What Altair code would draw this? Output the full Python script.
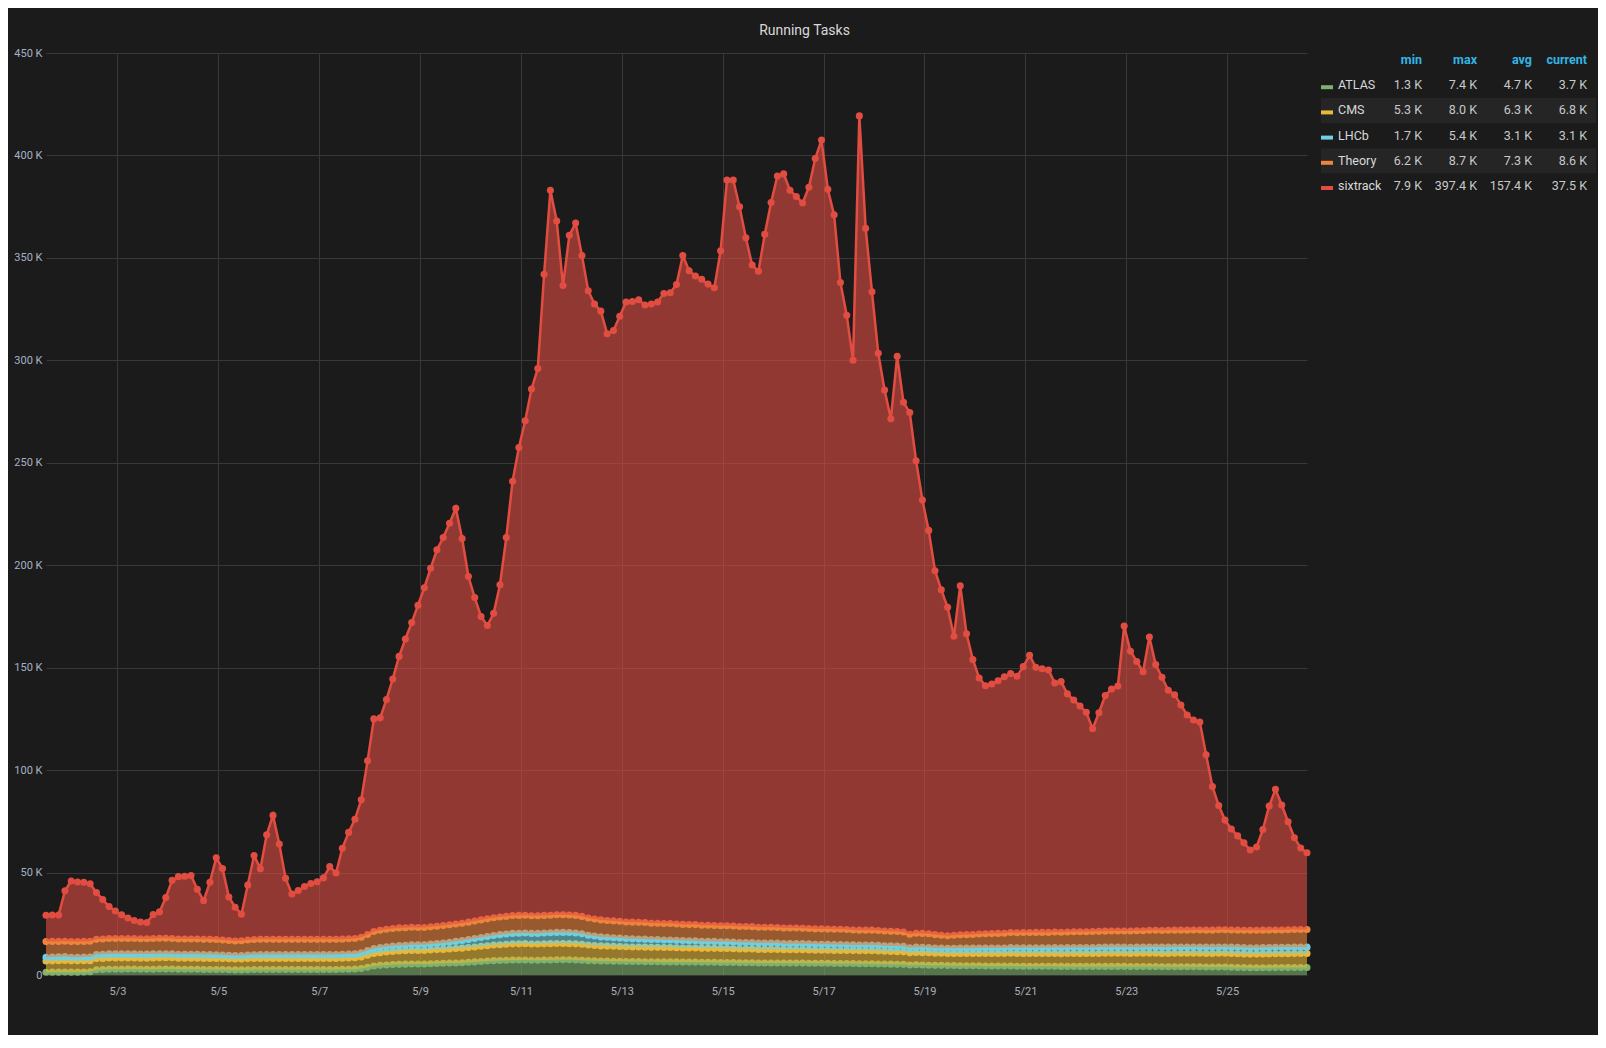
import altair as alt
import pandas as pd

# ---------------- data (values in thousands, every 3 h from 5/1 14:00) ----------------
START = "2018-05-01 14:00"
names = ["ATLAS", "CMS", "LHCb", "Theory", "sixtrack"]
colors = ["#7EB26D", "#EAB839", "#6ED0E0", "#EF843C", "#E24D42"]

atlas = [
    1.3, 1.4, 1.4, 1.5, 1.4, 1.4, 1.5, 1.6, 2.6, 2.7,
    2.8, 2.8, 2.8, 2.9, 2.9, 2.8, 2.8, 2.8, 2.9, 2.9,
    2.9, 2.8, 2.8, 2.8, 2.8, 2.7, 2.7, 2.7, 2.7, 2.6,
    2.5, 2.5, 2.6, 2.7, 2.7, 2.7, 2.7, 2.7, 2.7, 2.7,
    2.7, 2.7, 2.7, 2.7, 2.7, 2.7, 2.7, 2.8, 2.8, 2.9,
    3.2, 3.8, 4.4, 4.7, 4.9, 5.1, 5.2, 5.3, 5.4, 5.4,
    5.4, 5.5, 5.6, 5.7, 5.8, 5.9, 6.0, 6.2, 6.4, 6.6,
    6.8, 7.0, 7.1, 7.2, 7.3, 7.3, 7.3, 7.2, 7.2, 7.3,
    7.3, 7.4, 7.4, 7.4, 7.3, 7.2, 7.0, 6.9, 6.8, 6.8,
    6.7, 6.7, 6.6, 6.6, 6.6, 6.5, 6.5, 6.5, 6.4, 6.4,
    6.4, 6.3, 6.3, 6.3, 6.2, 6.2, 6.2, 6.1, 6.1, 6.1,
    6.0, 6.0, 6.0, 5.9, 5.9, 5.9, 5.9, 5.8, 5.8, 5.8,
    5.8, 5.7, 5.7, 5.7, 5.7, 5.6, 5.6, 5.6, 5.6, 5.5,
    5.5, 5.5, 5.4, 5.4, 5.3, 5.2, 5.2, 4.9, 5.0, 4.9,
    4.8, 4.7, 4.7, 4.6, 4.6, 4.5, 4.5, 4.5, 4.5, 4.4,
    4.4, 4.4, 4.4, 4.4, 4.3, 4.3, 4.3, 4.3, 4.3, 4.3,
    4.3, 4.2, 4.2, 4.2, 4.2, 4.2, 4.2, 4.2, 4.2, 4.2,
    4.2, 4.2, 4.1, 4.1, 4.1, 4.1, 4.1, 4.0, 4.0, 4.0,
    4.0, 4.0, 4.0, 4.0, 3.9, 3.9, 3.9, 3.9, 3.8, 3.7,
    3.6, 3.5, 3.5, 3.5, 3.5, 3.6, 3.6, 3.6, 3.7, 3.7,
    3.7,
]

cms = [
    5.5, 5.5, 5.6, 5.6, 5.5, 5.5, 5.5, 5.4, 5.4, 5.4,
    5.5, 5.5, 5.5, 5.4, 5.4, 5.4, 5.4, 5.5, 5.5, 5.5,
    5.5, 5.4, 5.4, 5.4, 5.4, 5.4, 5.4, 5.4, 5.3, 5.3,
    5.3, 5.3, 5.4, 5.4, 5.4, 5.4, 5.4, 5.4, 5.4, 5.4,
    5.4, 5.4, 5.4, 5.4, 5.4, 5.4, 5.4, 5.4, 5.5, 5.5,
    5.6, 5.9, 6.1, 6.2, 6.3, 6.4, 6.5, 6.5, 6.6, 6.6,
    6.6, 6.7, 6.8, 6.8, 6.9, 7.0, 7.1, 7.2, 7.3, 7.4,
    7.5, 7.6, 7.7, 7.8, 7.9, 7.9, 8.0, 7.9, 7.9, 7.9,
    8.0, 8.0, 8.0, 7.9, 7.9, 7.8, 7.6, 7.5, 7.4, 7.3,
    7.3, 7.2, 7.2, 7.1, 7.1, 7.1, 7.0, 7.0, 7.0, 7.0,
    6.9, 6.9, 6.9, 6.9, 6.8, 6.8, 6.8, 6.8, 6.8, 6.7,
    6.7, 6.7, 6.7, 6.6, 6.6, 6.6, 6.6, 6.5, 6.5, 6.5,
    6.5, 6.5, 6.4, 6.4, 6.4, 6.4, 6.4, 6.4, 6.3, 6.3,
    6.3, 6.3, 6.3, 6.2, 6.2, 6.2, 6.1, 5.9, 6.0, 6.0,
    6.0, 5.9, 5.9, 5.9, 5.9, 6.0, 6.0, 6.0, 6.0, 6.1,
    6.1, 6.1, 6.1, 6.2, 6.2, 6.2, 6.2, 6.2, 6.2, 6.2,
    6.2, 6.2, 6.3, 6.3, 6.3, 6.3, 6.3, 6.3, 6.4, 6.4,
    6.4, 6.4, 6.4, 6.5, 6.5, 6.5, 6.5, 6.5, 6.5, 6.6,
    6.6, 6.6, 6.6, 6.6, 6.6, 6.6, 6.7, 6.7, 6.7, 6.7,
    6.7, 6.7, 6.7, 6.8, 6.8, 6.8, 6.8, 6.8, 6.8, 6.8,
    6.8,
]

lhcb = [
    1.9, 1.9, 1.9, 1.9, 1.8, 1.8, 1.8, 1.8, 2.0, 2.0,
    2.0, 2.0, 2.0, 2.0, 2.0, 2.0, 2.0, 2.0, 2.0, 2.0,
    1.9, 1.9, 1.9, 1.9, 1.9, 1.9, 1.9, 1.8, 1.8, 1.7,
    1.7, 1.7, 1.8, 1.8, 1.9, 1.9, 1.9, 1.9, 1.9, 1.9,
    1.9, 1.9, 1.9, 1.9, 1.9, 1.9, 1.9, 1.9, 1.9, 1.9,
    2.0, 2.2, 2.4, 2.5, 2.6, 2.6, 2.7, 2.7, 2.8, 2.8,
    2.8, 2.9, 3.0, 3.1, 3.3, 3.5, 3.7, 3.9, 4.1, 4.3,
    4.5, 4.7, 4.9, 5.0, 5.1, 5.2, 5.2, 5.2, 5.2, 5.3,
    5.3, 5.4, 5.4, 5.4, 5.3, 5.1, 4.8, 4.6, 4.4, 4.3,
    4.2, 4.1, 4.0, 4.0, 3.9, 3.9, 3.8, 3.8, 3.7, 3.7,
    3.6, 3.6, 3.5, 3.5, 3.4, 3.4, 3.4, 3.3, 3.3, 3.3,
    3.2, 3.2, 3.2, 3.1, 3.1, 3.1, 3.1, 3.0, 3.0, 3.0,
    3.0, 3.0, 2.9, 2.9, 2.9, 2.9, 2.9, 2.8, 2.8, 2.8,
    2.8, 2.8, 2.8, 2.7, 2.7, 2.7, 2.7, 2.5, 2.6, 2.6,
    2.6, 2.5, 2.5, 2.5, 2.5, 2.6, 2.6, 2.6, 2.7, 2.7,
    2.7, 2.7, 2.7, 2.8, 2.8, 2.8, 2.8, 2.8, 2.8, 2.8,
    2.9, 2.9, 2.9, 2.9, 2.9, 2.9, 2.9, 3.0, 3.0, 3.0,
    3.0, 3.0, 3.0, 3.0, 3.0, 3.1, 3.1, 3.1, 3.1, 3.1,
    3.1, 3.1, 3.1, 3.1, 3.1, 3.1, 3.1, 3.1, 3.1, 3.1,
    3.1, 3.1, 3.1, 3.1, 3.1, 3.1, 3.1, 3.1, 3.1, 3.1,
    3.1,
]

theory = [
    7.6, 7.6, 7.5, 7.5, 7.6, 7.6, 7.6, 7.7, 7.4, 7.5,
    7.5, 7.5, 7.5, 7.5, 7.5, 7.5, 7.5, 7.5, 7.5, 7.5,
    7.5, 7.5, 7.5, 7.5, 7.5, 7.4, 7.4, 7.4, 7.3, 7.2,
    7.1, 7.2, 7.3, 7.4, 7.4, 7.4, 7.4, 7.4, 7.4, 7.4,
    7.4, 7.4, 7.4, 7.4, 7.4, 7.4, 7.4, 7.4, 7.5, 7.5,
    7.6, 7.9, 8.3, 8.4, 8.5, 8.6, 8.6, 8.6, 8.5, 8.4,
    8.4, 8.4, 8.4, 8.5, 8.5, 8.5, 8.5, 8.5, 8.5, 8.6,
    8.6, 8.6, 8.6, 8.6, 8.7, 8.7, 8.7, 8.6, 8.6, 8.6,
    8.6, 8.6, 8.6, 8.6, 8.6, 8.5, 8.4, 8.3, 8.3, 8.2,
    8.2, 8.2, 8.1, 8.1, 8.1, 8.1, 8.0, 8.0, 8.0, 8.0,
    8.0, 7.9, 7.9, 7.9, 7.9, 7.9, 7.8, 7.8, 7.8, 7.8,
    7.8, 7.8, 7.7, 7.7, 7.7, 7.7, 7.6, 7.6, 7.6, 7.6,
    7.5, 7.5, 7.5, 7.5, 7.4, 7.4, 7.4, 7.4, 7.3, 7.3,
    7.3, 7.3, 7.2, 7.2, 7.1, 7.1, 7.0, 6.6, 6.8, 6.8,
    6.7, 6.6, 6.3, 6.2, 6.4, 6.5, 6.6, 6.7, 6.8, 6.9,
    7.0, 7.1, 7.2, 7.3, 7.3, 7.4, 7.4, 7.5, 7.5, 7.5,
    7.6, 7.6, 7.6, 7.7, 7.7, 7.7, 7.8, 7.8, 7.8, 7.9,
    7.9, 7.9, 8.0, 8.0, 8.0, 8.1, 8.1, 8.1, 8.2, 8.2,
    8.2, 8.2, 8.3, 8.3, 8.3, 8.3, 8.4, 8.4, 8.4, 8.4,
    8.4, 8.5, 8.5, 8.5, 8.5, 8.5, 8.5, 8.6, 8.6, 8.6,
    8.6,
]

sixtrack = [
    12.9, 12.9, 12.9, 24.6, 29.6, 29.1, 28.9, 28.0, 22.9, 19.2,
    15.6, 13.4, 11.6, 10.0, 8.8, 8.2, 7.9, 11.7, 12.9, 19.9,
    28.4, 30.4, 30.6, 31.0, 24.2, 18.9, 27.9, 39.9, 34.9, 21.3,
    16.5, 13.0, 26.8, 41.0, 34.5, 51.0, 60.5, 46.5, 29.8, 22.1,
    23.8, 25.8, 27.3, 28.1, 30.0, 35.5, 32.4, 44.4, 51.9, 58.2,
    67.1, 84.7, 103.8, 103.7, 112.2, 121.8, 132.5, 140.9, 148.7, 157.3,
    165.8, 175.0, 183.7, 189.4, 196.0, 202.9, 187.7, 168.7, 157.9, 148.1,
    143.2, 148.6, 162.2, 184.9, 212.0, 228.4, 241.3, 257.1, 267.1, 312.9,
    353.8, 338.6, 307.1, 331.7, 337.9, 322.6, 306.2, 300.2, 297.1, 286.4,
    288.1, 295.3, 302.6, 302.9, 303.9, 301.4, 302.2, 303.2, 307.5, 307.9,
    312.1, 326.5, 319.1, 316.6, 315.3, 312.9, 311.2, 329.5, 364.0, 364.1,
    351.3, 336.1, 322.9, 320.2, 338.2, 353.7, 366.8, 368.1, 360.1, 357.1,
    354.0, 361.8, 376.0, 385.0, 361.1, 348.7, 315.7, 299.8, 278.0, 397.4,
    342.6, 311.6, 281.8, 264.0, 250.2, 280.8, 258.5, 254.6, 230.6, 211.5,
    196.9, 177.6, 168.6, 160.3, 145.9, 170.4, 146.8, 134.2, 125.0, 121.1,
    121.8, 123.3, 125.2, 126.4, 125.2, 129.8, 135.3, 129.4, 128.7, 128.1,
    121.5, 122.3, 116.2, 113.1, 110.2, 107.1, 99.0, 106.7, 115.0, 118.1,
    119.5, 148.8, 136.5, 131.4, 126.4, 143.2, 129.7, 123.6, 117.2, 114.9,
    109.9, 105.0, 102.5, 101.5, 85.6, 70.1, 60.6, 53.5, 49.3, 46.0,
    42.7, 39.2, 40.7, 49.1, 60.6, 68.6, 61.0, 52.7, 44.8, 39.8,
    37.5,
]

# legend table text, as shown
stat_names = ["min", "max", "avg", "current"]
stat_min = ["1.3 K", "5.3 K", "1.7 K", "6.2 K", "7.9 K"]
stat_max = ["7.4 K", "8.0 K", "5.4 K", "8.7 K", "397.4 K"]
stat_avg = ["4.7 K", "6.3 K", "3.1 K", "7.3 K", "157.4 K"]
stat_cur = ["3.7 K", "6.8 K", "3.1 K", "8.6 K", "37.5 K"]

y_ticks = [0, 50000, 100000, 150000, 200000, 250000, 300000, 350000, 400000, 450000]
x_tick_days = [3, 5, 7, 9, 11, 13, 15, 17, 19, 21, 23, 25]

# ---------------- build stacked table ----------------
series_vals = dict(zip(names, [atlas, cms, lhcb, theory, sixtrack]))
times = pd.date_range(START, periods=len(sixtrack), freq="3h")
rows = []
for i, t in enumerate(times):
    base = 0.0
    for n in names:
        v = series_vals[n][i] * 1000.0
        rows.append({"time": t, "series": n, "value": v, "y0": base, "y1": base + v})
        base += v
df = pd.DataFrame(rows)

FONT = "Roboto, Open Sans, sans-serif"
BG = "#1b1b1b"

X = alt.X(
    "time:T",
    title=None,
    scale=alt.Scale(
        domain=[alt.DateTime(year=2018, month=5, date=1, hours=14),
                alt.DateTime(year=2018, month=5, date=26, hours=14)],
        nice=False,
    ),
    axis=alt.Axis(
        values=[alt.DateTime(year=2018, month=5, date=d) for d in x_tick_days],
        format="%-m/%-d", labelPadding=10, labelColor="#aab0b8",
    ),
)
Y = alt.Y(
    "y1:Q",
    title=None,
    scale=alt.Scale(domain=[0, 450000], nice=False),
    axis=alt.Axis(
        values=y_ticks,
        labelExpr="datum.value == 0 ? '0' : format(datum.value / 1000, 'd') + ' K'",
        labelPadding=4, labelColor="#a6b2c4",
    ),
)

base = alt.Chart(df)
layers = []
for n, c in zip(names, colors):
    b = base.transform_filter(alt.datum.series == n)
    layers.append(b.mark_area(color=c, opacity=0.6).encode(x=X, y=Y, y2="y0:Q"))
    layers.append(b.mark_line(color=c, strokeWidth=2.5).encode(x=X, y=Y))
    layers.append(b.mark_circle(color=c, size=50, opacity=1).encode(x=X, y=Y))
main = alt.layer(*layers)

# ---------------- legend table ----------------
leg_rows = pd.DataFrame({"series": names, "color": colors})
cells = []
for col, vals in zip(stat_names, [stat_min, stat_max, stat_avg, stat_cur]):
    cells.append({"row": "hdr", "stat": col, "text": col, "kind": "hdr"})
    for n, v in zip(names, vals):
        cells.append({"row": n, "stat": col, "text": v, "kind": "val"})
leg_cells = pd.DataFrame(cells)

row_domain = ["hdr"] + names
RowY = lambda f: alt.Y(f, scale=alt.Scale(type="point", domain=row_domain, range=[7, 133], padding=0), axis=None)
StatX = alt.X("stat:N", scale=alt.Scale(type="point", domain=stat_names, range=[1376, 1541], padding=0), axis=None)

lr = alt.Chart(leg_rows)
row_bg = lr.transform_filter(
    alt.FieldOneOfPredicate(field="series", oneOf=["CMS", "Theory"])
).mark_rule(strokeWidth=25, color="#252525").encode(
    y=RowY("series:N"), x=alt.value(1275), x2=alt.value(1550)
)
swatch = lr.mark_rule(strokeWidth=4, yOffset=2).encode(
    y=RowY("series:N"), x=alt.value(1275), x2=alt.value(1287),
    color=alt.Color("series:N", scale=alt.Scale(domain=names, range=colors), legend=None),
)
name_txt = lr.mark_text(align="left", baseline="middle", font=FONT, fontSize=12.5, color="#d8d9da").encode(
    y=RowY("series:N"), x=alt.value(1292), text="series:N"
)
lc = alt.Chart(leg_cells)
val_txt = lc.transform_filter(alt.datum.kind == "val").mark_text(
    align="right", baseline="middle", font=FONT, fontSize=12.5, color="#c8c9ca"
).encode(y=RowY("row:N"), x=StatX, text="text:N")
hdr_txt = lc.transform_filter(alt.datum.kind == "hdr").mark_text(
    align="right", baseline="middle", font=FONT, fontSize=12.5, fontWeight="bold", color="#33b5e5"
).encode(y=RowY("row:N"), x=StatX, text="text:N")
legend = alt.layer(row_bg, swatch, name_txt, val_txt, hdr_txt)

chart = alt.layer(main, legend).resolve_scale(
    x="independent", y="independent", color="independent"
).properties(
    width=1261,
    height=922,
    autosize=alt.AutoSizeParams(type="none"),
    padding={"left": 38, "top": 45, "right": 291, "bottom": 60},
    background=BG,
    title=alt.TitleParams(
        "Running Tasks", anchor="middle", frame="group", dx=128, offset=9,
        color="#d8d9da", fontSize=14, fontWeight="normal", font=FONT,
    ),
).configure_axis(
    grid=True, gridColor="#383838", gridWidth=1, domain=False, ticks=False,
    labelFont=FONT, labelFontSize=11,
).configure_view(strokeWidth=0)

chart.save("out.html", embed_options={"renderer": "svg", "actions": False})
